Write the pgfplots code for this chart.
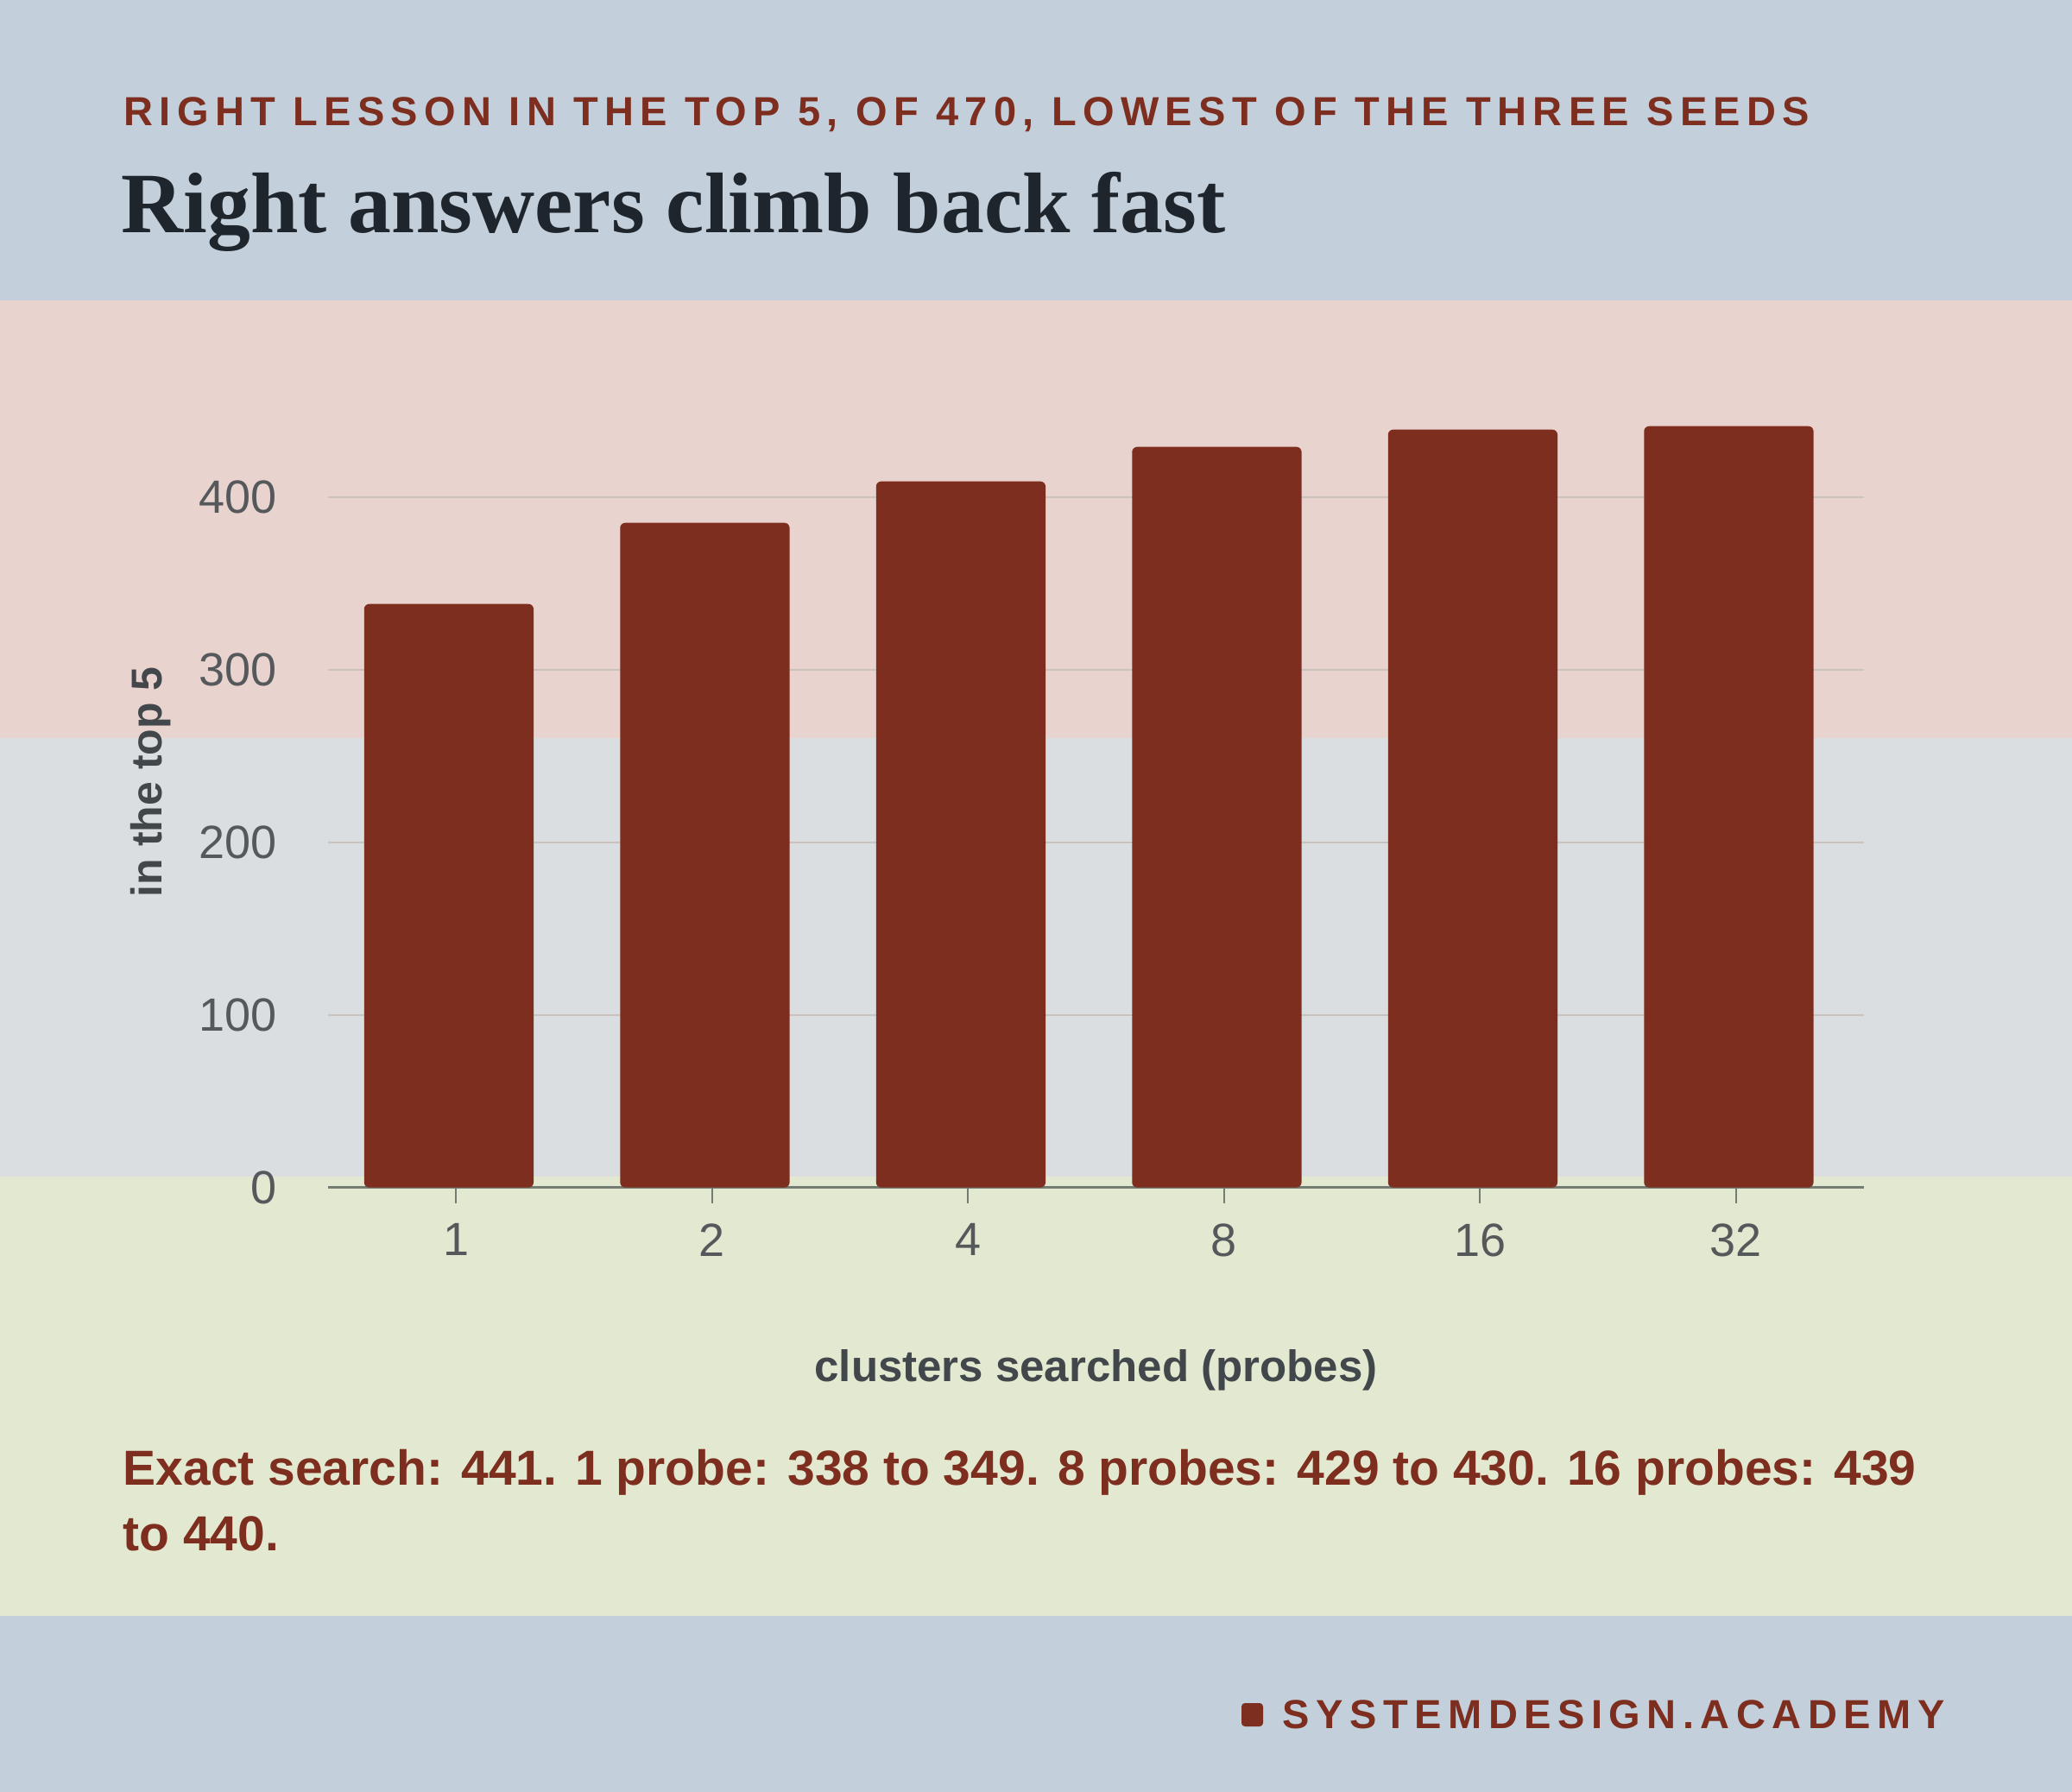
\documentclass[border=0pt]{standalone}
\usepackage{fontspec}
\setmainfont{Liberation Sans}
\newfontfamily\serifhead{Liberation Serif}
\newfontfamily\trackA{Liberation Sans}[LetterSpace=15.6]
\newfontfamily\trackB{Liberation Sans}[LetterSpace=16]
\usepackage{pgfplots}
\usepackage{pgfplotstable}
\pgfplotsset{compat=1.18}

\definecolor{bandblue}{HTML}{C3CFDB}
\definecolor{bandpink}{HTML}{E9D3CE}
\definecolor{bandgray}{HTML}{DADEE1}
\definecolor{bandgreen}{HTML}{E2E9D0}
\definecolor{rust}{HTML}{7D2E1F}
\definecolor{ink}{HTML}{1F252C}
\definecolor{tickgray}{HTML}{55595C}
\definecolor{labelgray}{HTML}{41474A}
\definecolor{gridc}{HTML}{C9C2BE}
\definecolor{axisc}{HTML}{737D73}

% right lesson in the top 5, lowest of three seeds
\pgfplotstableread{
x probes found
0 1 338
1 2 385
2 4 409
3 8 429
4 16 439
5 32 441
}\probedata

\begin{document}
\begin{tikzpicture}
  \useasboundingbox (0,0) rectangle (720pt,-622.8pt);
  % background bands
  \fill[bandblue] (0,0) rectangle (720pt,-622.8pt);
  \fill[bandpink] (0,-104.3pt) rectangle (720pt,-256.5pt);
  \fill[bandgray] (0,-256.5pt) rectangle (720pt,-409pt);
  \fill[bandgreen] (0,-409pt) rectangle (720pt,-561.5pt);

  \node[anchor=base west, inner sep=0pt, text=rust,
        font=\trackA\bfseries\fontsize{14.1}{17}\selectfont]
    at (42.9pt,-43.8pt) {RIGHT LESSON IN THE TOP 5, OF 470, LOWEST OF THE THREE SEEDS};
  \node[anchor=base west, inner sep=0pt, text=ink,
        font=\serifhead\bfseries\fontsize{29.9}{34}\selectfont]
    at (42pt,-81pt) {Right answers climb back fast};

  \begin{axis}[
    at={(114pt,-412.7pt)}, anchor=south west,
    scale only axis, width=533.7pt, height=282pt,
    xmin=-0.5, xmax=5.5, ymin=0, ymax=470,
    axis x line=bottom, axis y line=left,
    x axis line style={-, draw=axisc, line width=1pt},
    y axis line style={draw=none},
    xtick=data, xticklabels from table={\probedata}{probes},
    ytick={0,100,200,300,400},
    ymajorgrids, grid style={draw=gridc, line width=0.6pt},
    xtick align=outside, major tick length=5.4pt,
    xtick style={draw=axisc, line width=0.6pt},
    ytick style={draw=none},
    ticklabel style={font=\fontsize{16.2}{19}\selectfont, text=tickgray, inner sep=0pt},
    xticklabel style={anchor=north, yshift=-7pt},
    yticklabel style={anchor=east, xshift=-15pt},
    /pgf/number format/assume math mode=true,
    xlabel={clusters searched (probes)},
    xlabel style={at={(axis description cs:0.5,-0.2387)}, anchor=base,
      font=\bfseries\fontsize{15.3}{18}\selectfont, text=labelgray, inner sep=0pt},
    ylabel={in the top 5},
    ylabel style={at={(axis description cs:-0.1152,0.5)}, anchor=center,
      font=\bfseries\fontsize{15}{18}\selectfont, text=labelgray, inner sep=0pt},
    ybar, bar width=58.9pt, bar shift=-2.5pt,
    clip=false,
  ]
  \addplot[fill=rust, draw=none, rounded corners=1.8pt] table[x=x, y=found] {\probedata};
  \end{axis}

  \node[anchor=base west, inner sep=0pt, text=rust,
        font=\bfseries\fontsize{17.1}{21}\selectfont]
    at (42.6pt,-516pt) {Exact search: 441. 1 probe: 338 to 349. 8 probes: 429 to 430. 16 probes: 439};
  \node[anchor=base west, inner sep=0pt, text=rust,
        font=\bfseries\fontsize{17.1}{21}\selectfont]
    at (42.6pt,-538.8pt) {to 440.};

  % footer mark
  \fill[rust, rounded corners=1.2pt] (431.4pt,-591.9pt) rectangle (438.9pt,-600pt);
  \node[anchor=base west, inner sep=0pt, text=rust,
        font=\trackB\bfseries\fontsize{14.1}{17}\selectfont]
    at (445.5pt,-600.6pt) {SYSTEMDESIGN.ACADEMY};
\end{tikzpicture}
\end{document}
